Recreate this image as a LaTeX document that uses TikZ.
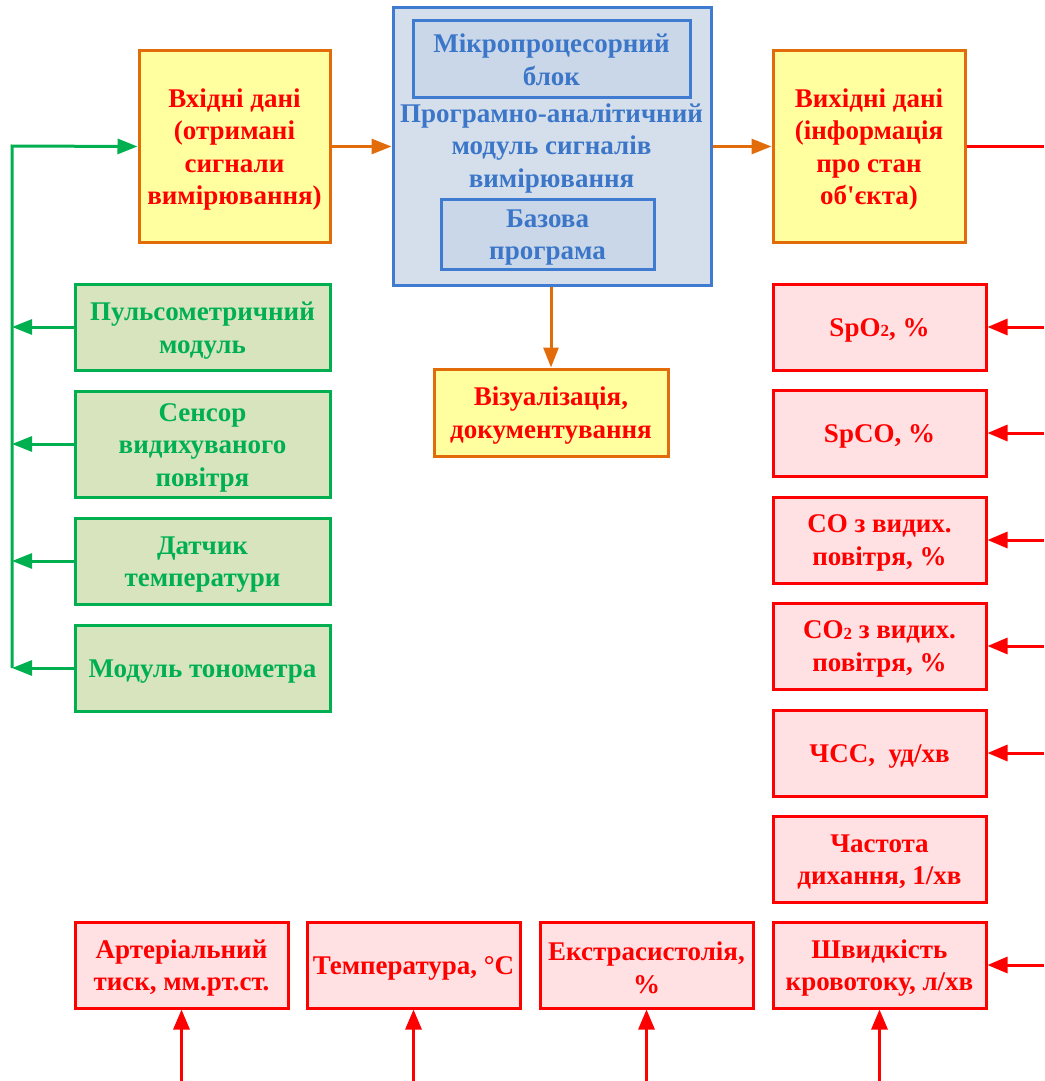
\documentclass[tikz,border=0pt]{standalone}
\usepackage{fontspec}
\setmainfont{Liberation Serif}
\usetikzlibrary{arrows.meta}
\definecolor{yfill}{HTML}{FFFF9F}
\definecolor{oline}{HTML}{E36C0A}
\definecolor{rtext}{HTML}{FF0000}
\definecolor{bline}{HTML}{3F7BD0}
\definecolor{bfill}{HTML}{D5DFEC}
\definecolor{bfillin}{HTML}{CAD7E9}
\definecolor{btext}{HTML}{3B76C8}
\definecolor{gline}{HTML}{00B050}
\definecolor{gfill}{HTML}{D7E4BD}
\definecolor{pfill}{HTML}{FFE1E4}
\newcommand{\subtwo}{\raisebox{-0.5pt}{\fontsize{17}{17}\selectfont 2}}
\begin{document}
\begin{tikzpicture}[x=1pt,y=-1pt,
  every node/.style={font=\fontsize{27}{32.5}\selectfont\bfseries, align=center, inner sep=1pt},
  rtxt/.style={label={[text=rtext, yshift=-3pt]center:{#1}}},
  gtxt/.style={label={[text=gline, yshift=-3.5pt]center:{#1}}},
  ybox/.style={draw=oline, fill=yfill, line width=3pt},
  bbox/.style={draw=bline, fill=bfill, line width=3pt},
  bin/.style={draw=bline, fill=bfillin, line width=3pt},
  gbox/.style={draw=gline, fill=gfill, line width=3pt, minimum width=255pt, minimum height=86pt},
  pbox/.style={draw=rtext, fill=pfill, line width=3pt, minimum width=213pt, minimum height=86pt},
  oarr/.style={draw=oline, line width=3pt, -{Triangle[length=20pt,width=15pt]}},
  garr/.style={draw=gline, line width=3pt, -{Triangle[length=20pt,width=15pt]}},
  rarr/.style={draw=rtext, line width=3pt, -{Triangle[length=20pt,width=16pt]}},
]
\useasboundingbox (0,0) rectangle (1044,1081);
% top row
\node[ybox, minimum width=191pt, minimum height=191pt,
  rtxt={Вхідні дані\\(отримані\\сигнали\\вимірювання)}] (in) at (234.5,146.5) {};
\node[bbox, minimum width=318pt, minimum height=277pt] (cpu) at (552,146.5) {};
\node[bin, minimum width=277pt, minimum height=76pt,
  label={[text=btext, yshift=-1pt]center:{Мікропроцесорний\\блок}}] (mp) at (551.5,59) {};
\node[text=btext] (prog) at (551.5,148.5) {Програмно-аналітичний\\модуль сигналів\\вимірювання};
\node[bin, minimum width=213pt, minimum height=70pt,
  label={[text=btext, yshift=-3.5pt]center:{Базова\\програма}}] (base) at (547.5,234) {};
\node[ybox, minimum width=192pt, minimum height=191pt,
  rtxt={Вихідні дані\\(інформація\\про стан\\об\textquotesingle єкта)}] (out) at (869,146.5) {};
\node[ybox, minimum width=234pt, minimum height=87pt,
  rtxt={Візуалізація,\\документування}] (vis) at (551,412.5) {};
\draw[oarr] (in.east) -- (cpu.west);
\draw[oarr] (cpu.east) -- (out.west);
\draw[oarr] (cpu.south -| vis.north) -- (vis.north);
% edges
\coordinate (edge) at (1044,0);
\coordinate (bot) at (0,1081);
\draw[draw=rtext, line width=3pt] (out.east) -- (out.east -| edge);
% green sensors
\node[gbox, gtxt={Пульсометричний\\модуль}] (g1) at (202.5,327) {};
\node[gbox, minimum height=106pt, gtxt={Сенсор\\видихуваного\\повітря}] (g2) at (202.5,444) {};
\node[gbox, gtxt={Датчик\\температури}] (g3) at (202.5,561) {};
\node[gbox, gtxt={Модуль тонометра}] (g4) at (202.5,668) {};
\coordinate (gt) at (12,146);
\coordinate (gb) at (12,668);
\draw[garr] (gb) -- (gt) -- (in.west);
\draw[garr] (g1.west) -- (g1.west -| gt);
\draw[garr] (g2.west) -- (g2.west -| gt);
\draw[garr] (g3.west) -- (g3.west -| gt);
\draw[garr] (g4.west) -- (g4.west -| gt);
% right parameters
\node[pbox, rtxt={SpO\subtwo, \%}] (r1) at (879.5,327) {};
\node[pbox, rtxt={SpCO, \%}] (r2) at (879.5,433) {};
\node[pbox, rtxt={CO з видих.\\повітря, \%}] (r3) at (879.5,540) {};
\node[pbox, rtxt={CO\subtwo{} з видих.\\повітря, \%}] (r4) at (879.5,646) {};
\node[pbox, rtxt={ЧСС,\ \ уд/хв}] (r5) at (879.5,753) {};
\node[pbox, rtxt={Частота\\дихання, 1/хв}] (r6) at (879.5,859) {};
\node[pbox, rtxt={Швидкість\\кровотоку, л/хв}] (r7) at (879.5,965) {};
\foreach \r in {r1,r2,r3,r4,r5,r7}{
  \draw[rarr] (\r.east -| edge) -- (\r.east);
}
% bottom parameters
\node[pbox, rtxt={Артеріальний\\тиск, мм.рт.ст.}] (b1) at (181.5,965) {};
\node[pbox, rtxt={Температура, °C}] (b2) at (413.5,965) {};
\node[pbox, rtxt={Екстрасистолія,\\\%}] (b3) at (646.5,965) {};
\foreach \b in {b1,b2,b3,r7}{
  \draw[rarr] (\b.south |- bot) -- (\b.south);
}
\end{tikzpicture}
\end{document}
